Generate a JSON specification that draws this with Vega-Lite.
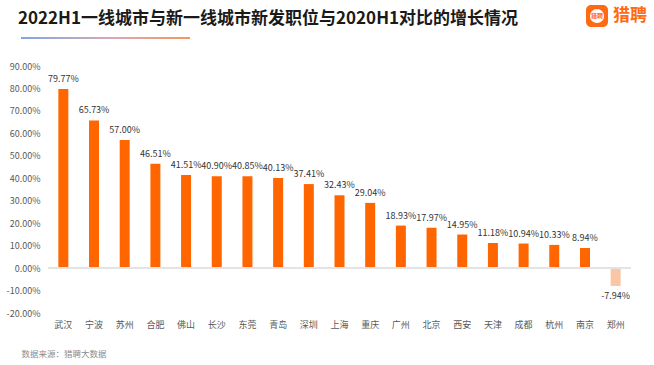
{
  "$schema": "https://vega.github.io/schema/vega-lite/v6.json",
  "width": 583,
  "height": 247,
  "autosize": {"type": "none"},
  "padding": {"left": 48, "top": 66, "right": 23, "bottom": 52},
  "background": "white",
  "config": {
    "font": "Noto Sans CJK SC",
    "view": {"stroke": null},
    "locale": {
      "number": {
        "decimal": ".",
        "thousands": ",",
        "grouping": [3],
        "currency": ["", ""],
        "minus": "-",
        "percent": "%"
      }
    }
  },
  "title": {
    "text": "2022H1一线城市与新一线城市新发职位与2020H1对比的增长情况",
    "anchor": "start",
    "frame": "group",
    "dx": -30,
    "offset": 0,
    "dy": 23,
    "fontSize": 17,
    "fontWeight": "bold",
    "color": "#1a1a1a",
    "font": "Noto Sans CJK SC"
  },
  "data": {
    "values": [
      {"city": "武汉", "v": 0.7977},
      {"city": "宁波", "v": 0.6573},
      {"city": "苏州", "v": 0.5700},
      {"city": "合肥", "v": 0.4651},
      {"city": "佛山", "v": 0.4151},
      {"city": "长沙", "v": 0.4090},
      {"city": "东莞", "v": 0.4085},
      {"city": "青岛", "v": 0.4013},
      {"city": "深圳", "v": 0.3741},
      {"city": "上海", "v": 0.3243},
      {"city": "重庆", "v": 0.2904},
      {"city": "广州", "v": 0.1893},
      {"city": "北京", "v": 0.1797},
      {"city": "西安", "v": 0.1495},
      {"city": "天津", "v": 0.1118},
      {"city": "成都", "v": 0.1094},
      {"city": "杭州", "v": 0.1033},
      {"city": "南京", "v": 0.0894},
      {"city": "郑州", "v": -0.0794}
    ]
  },
  "encoding": {
    "x": {
      "field": "city",
      "type": "nominal",
      "sort": null,
      "scale": {"paddingInner": 0, "paddingOuter": 0},
      "axis": {
        "orient": "bottom",
        "domain": false,
        "ticks": false,
        "labelAngle": 0,
        "labelFontSize": 9,
        "labelColor": "#595959",
        "labelPadding": 7,
        "title": "数据来源：猎聘大数据",
        "titleAnchor": "start",
        "titleAlign": "left",
        "titleX": -27,
        "titleY": 40,
        "titleBaseline": "middle",
        "titleFontSize": 8.5,
        "titleFontWeight": "normal",
        "titleColor": "#8c8c8c"
      }
    },
    "y": {
      "field": "v",
      "type": "quantitative",
      "scale": {"domain": [-0.2, 0.9], "nice": false, "zero": true},
      "axis": {
        "values": [-0.2, -0.1, 0, 0.1, 0.2, 0.3, 0.4, 0.5, 0.6, 0.7, 0.8, 0.9],
        "format": ".2%",
        "domain": false,
        "ticks": false,
        "grid": false,
        "labelPadding": 8,
        "labelFontSize": 9,
        "labelColor": "#595959",
        "title": null
      }
    }
  },
  "layer": [
    {
      "mark": {"type": "bar", "width": 10},
      "encoding": {
        "color": {
          "condition": {"test": "datum.v < 0", "value": "#f9c6a6"},
          "value": "#ff6600"
        }
      }
    },
    {
      "mark": {"type": "rule", "color": "#e3e3e3", "strokeWidth": 1},
      "encoding": {"y": {"datum": 0}, "x": null}
    },
    {
      "transform": [{"filter": "datum.v >= 0"}],
      "mark": {"type": "text", "baseline": "bottom", "dy": -5, "fontSize": 9, "color": "#333333"},
      "encoding": {"text": {"field": "v", "type": "quantitative", "format": ".2%"}}
    },
    {
      "transform": [{"filter": "datum.v < 0"}],
      "mark": {"type": "text", "baseline": "top", "dy": 6, "fontSize": 9, "color": "#333333"},
      "encoding": {"text": {"field": "v", "type": "quantitative", "format": ".2%"}}
    },
    {
      "data": {"values": [{"a": 0}]},
      "mark": {
        "type": "rect",
        "fill": {
          "gradient": "linear",
          "x1": 0, "y1": 0, "x2": 1, "y2": 0,
          "stops": [
            {"offset": 0, "color": "#7fa8e0"},
            {"offset": 0.55, "color": "#d9a8b8"},
            {"offset": 1, "color": "#f5965a"}
          ]
        }
      },
      "encoding": {
        "x": {"value": -27},
        "x2": {"value": 142},
        "y": {"value": -29},
        "y2": {"value": -27}
      }
    },
    {
      "data": {"values": [{"a": 0}]},
      "mark": {"type": "rect", "fill": "#ff6a13", "cornerRadius": 5},
      "encoding": {
        "x": {"value": 538},
        "x2": {"value": 560},
        "y": {"value": -61},
        "y2": {"value": -39}
      }
    },
    {
      "data": {"values": [{"a": 0}]},
      "mark": {"type": "point", "shape": "circle", "filled": true, "color": "white", "size": 200, "opacity": 1},
      "encoding": {
        "x": {"value": 549},
        "y": {"value": -50}
      }
    },
    {
      "data": {"values": [{"t": "猎聘"}]},
      "mark": {"type": "text", "fontSize": 6, "color": "#ff6a13", "fontWeight": "bold"},
      "encoding": {
        "text": {"field": "t"},
        "x": {"value": 549},
        "y": {"value": -50}
      }
    },
    {
      "data": {"values": [{"t": "猎聘"}]},
      "mark": {"type": "text", "fontSize": 17, "color": "#ff6a13", "fontWeight": "bold", "align": "left", "baseline": "middle"},
      "encoding": {
        "text": {"field": "t"},
        "x": {"value": 565},
        "y": {"value": -50}
      }
    }
  ]
}
